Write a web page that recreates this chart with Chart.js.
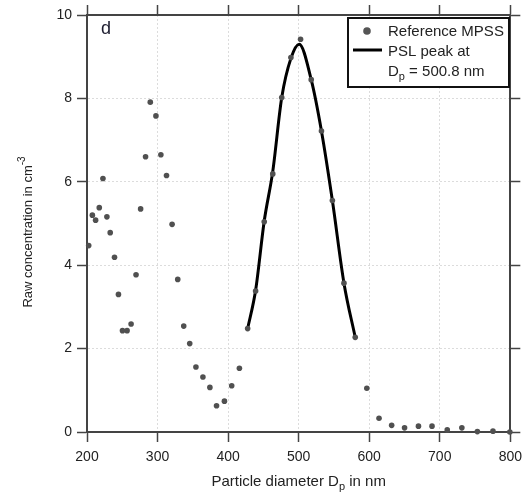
<!DOCTYPE html>
<html>
<head>
<meta charset="utf-8">
<script src="https://cdn.jsdelivr.net/npm/chart.js@4/dist/chart.umd.min.js"></script>
<style>
  html, body { margin: 0; background: #fff; }
</style>
</head>
<body>
<canvas id="ctx" width="529" height="496"></canvas>
<script>
// Reference MPSS points (diameter in nm, raw concentration in cm^-3)
const mpssX = [202.4, 207.6, 212.2, 217.4, 222.6, 228.2, 232.9, 239, 244.6, 250.3, 256.8, 262.5, 269.5, 276, 283,
  289.7, 297.7, 304.7, 312.7, 320.6, 328.6, 337.1, 345.6, 354.4, 364.3, 374.2, 383.6, 394.8, 405.1, 416,
  427.7, 439, 451.2, 463.3, 476, 489, 502.7, 517.8, 532.3, 547.8, 564.2, 580.2,
  596.6, 613.9, 631.8, 650.1, 669.8, 689, 710.6, 731.3, 753.3, 775.4, 799.3];
const mpssY = [4.47, 5.2, 5.08, 5.38, 6.08, 5.16, 4.78, 4.19, 3.3, 2.43, 2.43, 2.59, 3.77, 5.35, 6.6,
  7.91, 7.58, 6.65, 6.15, 4.98, 3.66, 2.54, 2.12, 1.56, 1.32, 1.07, 0.63, 0.74, 1.11, 1.53,
  2.48, 3.38, 5.04, 6.19, 8.02, 8.98, 9.42, 8.45, 7.22, 5.55, 3.57, 2.27,
  1.05, 0.33, 0.16, 0.1, 0.14, 0.14, 0.05, 0.1, 0.01, 0.02, 0];

// PSL peak fit curve
const fitX = [427.7, 439, 451.2, 463.3, 476, 489, 500.8, 517.8, 532.3, 547.8, 564.2, 580.2];
const fitY = [2.48, 3.4, 5.06, 6.25, 8.02, 8.96, 9.3, 8.45, 7.22, 5.55, 3.57, 2.27];

const xMin = 200, xMax = 800, xStep = 100;
const yMin = 0, yMax = 10, yStep = 2;

const FONT = '"Liberation Sans", Arial, sans-serif';
const AXIS = '#444';
const GRID = '#dcdcdc';

// draw text pieces with sub/superscripts; parts = [text, shift, size]
const drawParts = (c, parts, x, y, center) => {
  let w = 0;
  parts.forEach(p => { c.font = p[2] + 'px ' + FONT; w += c.measureText(p[0]).width; });
  let cx = center ? x - w / 2 : x;
  parts.forEach(p => {
    c.font = p[2] + 'px ' + FONT;
    c.fillText(p[0], cx, y + p[1]);
    cx += c.measureText(p[0]).width;
  });
};

const extras = {
  id: 'extras',
  afterDraw(chart) {
    const c = chart.ctx;
    const a = chart.chartArea;
    c.save();
    c.fillStyle = '#222';
    c.textBaseline = 'alphabetic';
    c.textAlign = 'left';
    // x title
    drawParts(c, [['Particle diameter D', 0, 15], ['p', 4, 11], [' in nm', 0, 15]], (a.left + a.right) / 2, 486, true);
    // y title
    c.save();
    c.translate(32, 232);
    c.rotate(-Math.PI / 2);
    drawParts(c, [['Raw concentration in cm', 0, 13], ['-3', -7, 10]], 0, 0, true);
    c.restore();
    // panel letter
    c.fillStyle = '#1b1b2e';
    c.font = '18px ' + FONT;
    c.fillText('d', 101, 34);
    // legend
    c.fillStyle = '#fff';
    c.fillRect(348, 18, 161, 69);
    c.strokeStyle = '#111';
    c.lineWidth = 2;
    c.strokeRect(348, 18, 161, 69);
    c.fillStyle = '#555';
    c.beginPath();
    c.arc(367, 31, 3.8, 0, Math.PI * 2);
    c.fill();
    c.strokeStyle = '#000';
    c.lineWidth = 3;
    c.beginPath();
    c.moveTo(353, 50);
    c.lineTo(382, 50);
    c.stroke();
    c.fillStyle = '#222';
    drawParts(c, [['Reference MPSS', 0, 15]], 388, 36, false);
    drawParts(c, [['PSL peak at', 0, 15]], 388, 55.5, false);
    drawParts(c, [['D', 0, 15], ['p', 4, 11], [' = 500.8 nm', 0, 15]], 388, 75.5, false);
    c.restore();
  }
};

const tickFont = { family: FONT, size: 14 };

new Chart(document.getElementById('ctx'), {
  type: 'scatter',
  data: {
    datasets: [
      {
        label: 'Reference MPSS',
        data: mpssX.map((x, i) => ({ x: x, y: mpssY[i] })),
        backgroundColor: '#505050',
        borderColor: '#505050',
        pointRadius: 2.8,
        borderWidth: 0,
        clip: false
      },
      {
        type: 'line',
        label: 'PSL peak',
        data: fitX.map((x, i) => ({ x: x, y: fitY[i] })),
        borderColor: '#000',
        borderWidth: 3,
        pointRadius: 0,
        cubicInterpolationMode: 'monotone',
        fill: false
      }
    ]
  },
  options: {
    responsive: false,
    animation: false,
    layout: { padding: 0 },
    plugins: { legend: { display: false }, tooltip: { enabled: false } },
    scales: {
      x: {
        type: 'linear', position: 'bottom', min: xMin, max: xMax,
        ticks: { stepSize: xStep, color: '#222', font: tickFont, padding: 7, maxRotation: 0 },
        grid: { color: GRID, tickColor: AXIS, tickLength: 10, tickWidth: 1.5 },
        border: { color: AXIS, width: 2, dash: [2, 2] },
        afterFit: s => { s.height = 64; }
      },
      x2: {
        type: 'linear', position: 'top', min: xMin, max: xMax,
        ticks: { stepSize: xStep, display: false },
        grid: { drawOnChartArea: false, tickColor: AXIS, tickLength: 10, tickWidth: 1.5 },
        border: { color: AXIS, width: 2 },
        afterFit: s => { s.height = 15; }
      },
      y: {
        type: 'linear', position: 'left', min: yMin, max: yMax,
        ticks: { stepSize: yStep, color: '#222', font: tickFont, padding: 5 },
        grid: { color: GRID, tickColor: AXIS, tickLength: 10, tickWidth: 1.5 },
        border: { color: AXIS, width: 2, dash: [2, 2] },
        afterFit: s => { s.width = 87; }
      },
      y2: {
        type: 'linear', position: 'right', min: yMin, max: yMax,
        ticks: { stepSize: yStep, display: false },
        grid: { drawOnChartArea: false, tickColor: AXIS, tickLength: 10, tickWidth: 1.5 },
        border: { color: AXIS, width: 2 },
        afterFit: s => { s.width = 16; }
      }
    }
  },
  plugins: [extras]
});
</script>
</body>
</html>
